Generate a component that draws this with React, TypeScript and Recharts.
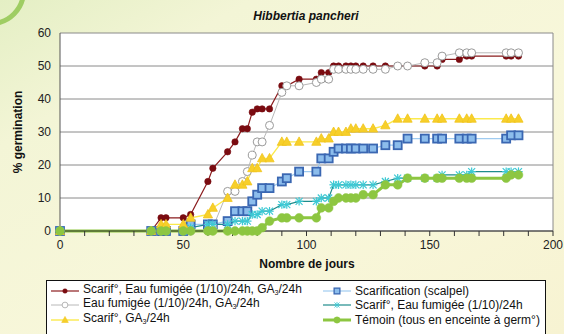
import React from 'react';
import { LineChart, Line, XAxis, YAxis, CartesianGrid, Legend, ReferenceLine } from 'recharts';

// observation days
const days = [0, 37, 41, 43, 50, 53, 60, 62, 68, 71, 74, 76, 78, 80, 82, 85, 90, 92, 97, 104, 106, 109, 111, 113, 116, 118, 120, 123, 127, 132, 137, 141, 148, 153, 155, 162, 165, 167, 181, 183, 186];

// cumulative germination (%) per treatment
const scarFumGa = [0, 0, 4, 4, 4, 5, 15, 19, 24, 27, 31, 31, 36, 37, 37, 37, 44, 44, 46, 46, 48, 48, 50, 50, 50, 50, 50, 50, 50, 50, 50, 50, 50, 50, 52, 52, 53, 53, 53, 53, 53];
const scalpel = [0, 0, 0, 0, 0, 2, 2, 2, 3, 6, 6, 6, 9, 11, 13, 13, 15, 16, 18, 18, 22, 22, 24, 25, 25, 25, 25, 25, 25, 26, 26, 28, 28, 28, 28, 28, 28, 28, 28, 29, 29];
const fumGa = [0, 0, 0, 0, 0, 0, 0, 1, 12, 12, 15, 18, 23, 27, 27, 32, 42, 44, 44, 45, 46, 46, 49, 49, 49, 49, 49, 49, 49, 49, 50, 50, 51, 51, 53, 54, 54, 54, 54, 54, 54];
const scarFum = [0, 0, 0, 0, 0, 1, 2, 2, 2, 3, 3, 3, 5, 5, 6, 6, 8, 8, 9, 9, 10, 10, 14, 14, 14, 14, 14, 14, 14, 15, 16, 16, 16, 16, 17, 17, 17, 18, 18, 18, 18];
const scarGa = [0, 0, 2, 2, 2, 4, 5, 7, 10, 14, 14, 15, 19, 19, 22, 22, 27, 27, 27, 27, 28, 28, 30, 30, 30, 31, 31, 31, 31, 32, 34, 34, 34, 34, 34, 34, 34, 34, 34, 34, 34];
const temoin = [0, 0, 0, 0, 0, 0, 0, 0, 0, 0, 0, 0, 0, 0, 1, 3, 4, 4, 4, 4, 7, 7, 9, 10, 10, 10, 10, 11, 11, 14, 14, 16, 16, 16, 16, 16, 16, 16, 16, 17, 17];

const xTicks = [0, 10, 20, 30, 40, 50, 60, 70, 80, 90, 100, 110, 120, 130, 140, 150, 160, 170, 180, 190, 200];
const yTicks = [0, 10, 20, 30, 40, 50, 60];

const FONT = '"Liberation Sans", Arial, sans-serif';

type DotProps = { cx?: number; cy?: number; index?: number };

const redDot = ({ cx = 0, cy = 0, index }: DotProps) => (
  <circle key={`r${index}`} cx={cx} cy={cy} r={3.2} fill="#7a0b10" stroke="#7a0b10" strokeWidth={0.6} />
);
const grayDot = ({ cx = 0, cy = 0, index }: DotProps) => (
  <circle key={`g${index}`} cx={cx} cy={cy} r={4} fill="#fff" stroke="#9a9a9a" strokeWidth={1} />
);
const triDot = ({ cx = 0, cy = 0, index }: DotProps) => (
  <polygon
    key={`t${index}`}
    points={`${cx},${cy - 5} ${cx - 4.6},${cy + 3.4} ${cx + 4.6},${cy + 3.4}`}
    fill="#f7cf2a"
    stroke="#f0c41c"
    strokeWidth={0.8}
  />
);
const squareDot = ({ cx = 0, cy = 0, index }: DotProps) => (
  <rect key={`s${index}`} x={cx - 4} y={cy - 4} width={8} height={8} fill="#8cbdec" stroke="#3a67b2" strokeWidth={1.8} />
);
const starDot = ({ cx = 0, cy = 0, index }: DotProps) => (
  <g key={`x${index}`} stroke="#3cc9d4" strokeWidth={1.2}>
    <line x1={cx - 3.5} y1={cy - 3.5} x2={cx + 3.5} y2={cy + 3.5} />
    <line x1={cx - 3.5} y1={cy + 3.5} x2={cx + 3.5} y2={cy - 3.5} />
    <line x1={cx} y1={cy - 4.2} x2={cx} y2={cy + 4.2} />
    <line x1={cx - 4.2} y1={cy} x2={cx + 4.2} y2={cy} />
  </g>
);
const greenDot = ({ cx = 0, cy = 0, index }: DotProps) => (
  <circle key={`v${index}`} cx={cx} cy={cy} r={4.4} fill="#8dc641" stroke="#8dc641" strokeWidth={0.5} />
);

const Ga3 = () => (
  <>
    GA<span style={{ fontSize: 7, verticalAlign: -2 }}>3</span>
  </>
);

// drawing order: later series sit on top
const series = [
  { key: 'scarFumGa', label: <>Scarif°, Eau fumigée (1/10)/24h, <Ga3 />/24h</>, stroke: '#8b1c1e', width: 1.2, dot: redDot },
  { key: 'scalpel', label: <>Scarification (scalpel)</>, stroke: '#9fcbf0', width: 1.2, dot: squareDot },
  { key: 'fumGa', label: <>Eau fumigée (1/10)/24h, <Ga3 />/24h</>, stroke: '#b8b8b8', width: 1, dot: grayDot },
  { key: 'scarFum', label: <>Scarif°, Eau fumigée (1/10)/24h</>, stroke: '#1f8c8c', width: 1.2, dot: starDot },
  { key: 'scarGa', label: <>Scarif°, <Ga3 />/24h</>, stroke: '#fbea4c', width: 1.4, dot: triDot },
  { key: 'temoin', label: <>Témoin (tous en enceinte à germ°)</>, stroke: '#8dc641', width: 3, dot: greenDot },
];

// legend reads row by row, two columns
const legendRows = [
  ['scarFumGa', 'scalpel'],
  ['fumGa', 'scarFum'],
  ['scarGa', 'temoin'],
];

const LegendBox = () => (
  <div
    style={{
      width: 500,
      height: 60,
      boxSizing: 'border-box',
      background: '#fff',
      border: '1px solid #111',
      fontFamily: FONT,
      fontSize: 12,
      color: '#111',
      paddingTop: 3,
    }}
  >
    {legendRows.map((row, r) => (
      <div key={r} style={{ display: 'flex', height: 14.3, alignItems: 'center' }}>
        {row.map((k, c) => {
          const s = series.find((x) => x.key === k)!;
          return (
            <div key={k} style={{ display: 'flex', alignItems: 'center', width: c === 0 ? 272 : 220, marginLeft: c === 0 ? 4 : 0 }}>
              <svg width={28} height={12} style={{ flex: 'none' }}>
                <line x1={0} y1={6} x2={28} y2={6} stroke={s.stroke} strokeWidth={s.width} />
                <g transform="translate(14,6) scale(0.72) translate(-14,-6)">{s.dot({ cx: 14, cy: 6, index: 0 })}</g>
              </svg>
              <span style={{ marginLeft: 4, whiteSpace: 'nowrap', lineHeight: '14px' }}>{s.label}</span>
            </div>
          );
        })}
      </div>
    ))}
  </div>
);

export default function App() {
  const data = days.map((day, i) => ({
    day,
    scarFumGa: scarFumGa[i],
    scalpel: scalpel[i],
    fumGa: fumGa[i],
    scarFum: scarFum[i],
    scarGa: scarGa[i],
    temoin: temoin[i],
  }));

  return (
    <div
      style={{
        position: 'absolute',
        left: 0,
        top: 0,
        width: 564,
        height: 334,
        overflow: 'hidden',
        background: 'linear-gradient(150deg, #e4efc4 0%, #f3f5d6 22%, #f8f7da 60%, #f7f3d2 100%)',
        fontFamily: FONT,
      }}
    >
      <div
        style={{
          position: 'absolute',
          left: -44,
          top: -44,
          width: 60,
          height: 60,
          borderRadius: '50%',
          border: '5px solid #9fcd63',
        }}
      />
      <LineChart width={564} height={334} data={data} margin={{ top: 33, right: 11, bottom: 73, left: 30 }}>
        <CartesianGrid vertical={false} stroke="#8a8a8a" fill="#fff" strokeWidth={1} />
        <ReferenceLine x={200} stroke="#8a8a8a" />
        <XAxis
          dataKey="day"
          type="number"
          domain={[0, 200]}
          ticks={xTicks}
          interval={0}
          tickFormatter={(v: number) => (v % 50 === 0 ? String(v) : '')}
          tick={{ fill: '#222', fontSize: 12, fontFamily: FONT }}
          tickSize={5}
          tickMargin={4}
          axisLine={{ stroke: '#333' }}
          tickLine={{ stroke: '#333' }}
          height={30}
        />
        <YAxis
          type="number"
          domain={[0, 60]}
          ticks={yTicks}
          interval={0}
          tick={{ fill: '#222', fontSize: 12, fontFamily: FONT }}
          tickLine={false}
          tickSize={4}
          tickMargin={5}
          axisLine={{ stroke: '#555' }}
          width={30}
        />
        {series.map((s) => (
          <Line
            key={s.key}
            dataKey={s.key}
            name={s.key}
            type="linear"
            stroke={s.stroke}
            strokeWidth={s.width}
            dot={s.dot}
            activeDot={false}
            isAnimationActive={false}
          />
        ))}
        <Legend
          layout="vertical"
          align="center"
          verticalAlign="middle"
          content={() => <LegendBox />}
          wrapperStyle={{ left: 46, top: 280, width: 500, height: 60 }}
        />
      </LineChart>
      <div
        style={{
          position: 'absolute',
          left: 186,
          top: 9,
          width: 240,
          textAlign: 'center',
          fontSize: 12,
          fontWeight: 'bold',
          fontStyle: 'italic',
          color: '#111',
        }}
      >
        Hibbertia pancheri
      </div>
      <div
        style={{
          position: 'absolute',
          left: 207,
          top: 257,
          width: 200,
          textAlign: 'center',
          fontSize: 12,
          fontWeight: 'bold',
          color: '#111',
        }}
      >
        Nombre de jours
      </div>
      <div
        style={{
          position: 'absolute',
          left: 18,
          top: 132,
          width: 120,
          textAlign: 'center',
          fontSize: 12,
          fontWeight: 'bold',
          color: '#111',
          transform: 'translate(-50%, -50%) rotate(-90deg)',
          whiteSpace: 'nowrap',
        }}
      >
        % germination
      </div>
    </div>
  );
}
